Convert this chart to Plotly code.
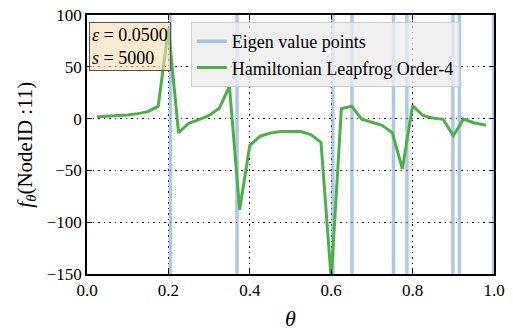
import plotly.graph_objects as go

theta = [0.025, 0.05, 0.075, 0.1, 0.125, 0.15, 0.175, 0.2, 0.225, 0.25,
         0.275, 0.3, 0.325, 0.35, 0.375, 0.4, 0.425, 0.45, 0.475, 0.5,
         0.525, 0.55, 0.575, 0.6, 0.625, 0.65, 0.675, 0.7, 0.725, 0.75,
         0.775, 0.8, 0.825, 0.85, 0.875, 0.9, 0.925, 0.95, 0.98]
f_values = [1.8, 2.2, 2.8, 3.5, 4.8, 6.7, 12, 87, -13.6, -4.5,
            -1, 3, 10, 31, -88, -26, -17, -14, -12.5, -12.2,
            -12.5, -15.5, -23, -155, 9.5, 12, -0.5, -3.5, -6.5, -13.5,
            -48.5, 12.5, 3, 0.5, -0.7, -16.5, -0.5, -4, -6.5]
eigen_values = [0.2047, 0.3686, 0.604, 0.651, 0.753, 0.786, 0.899, 0.915, 0.999]
x_ticks = [0.0, 0.2, 0.4, 0.6, 0.8, 1.0]
y_ticks = [-150, -100, -50, 0, 50, 100]
eps_text = "0.0500"
s_text = "5000"
x_title = "<i>θ</i>"
y_title = "<i>f</i><sub><i>θ</i></sub>(NodeID :11)"

FONT = "Liberation Serif"

ex, ey = [], []
for e in eigen_values:
    ex += [e, e, None]
    ey += [-300, 300, None]

fig = go.Figure()
fig.add_trace(go.Scatter(x=ex, y=ey, mode="lines", name="Eigen value points",
                         line=dict(color="rgba(120,165,210,0.6)", width=3.5)))
fig.add_trace(go.Scatter(x=theta, y=f_values, mode="lines",
                         name="Hamiltonian Leapfrog Order-4",
                         line=dict(color="#4daf4a", width=3)))

axis_common = dict(showline=True, linecolor="black", linewidth=1.5, mirror="ticks",
                   ticks="inside", ticklen=5, tickcolor="black", tickwidth=1,
                   showgrid=True, gridcolor="black", griddash="1.5px,4px", gridwidth=1.2,
                   zeroline=False, automargin=False,
                   tickfont=dict(family=FONT, size=17, color="black"))

fig.update_xaxes(range=[0, 1], tickvals=x_ticks, tickformat=".1f", **axis_common)
fig.update_yaxes(range=[-150, 100], tickvals=y_ticks, **axis_common)

fig.add_annotation(xref="paper", yref="paper", x=0.5, y=-0.17, xanchor="center", yanchor="middle",
                   text=x_title, showarrow=False, font=dict(family=FONT, size=22, color="black"))
fig.add_annotation(xref="paper", yref="paper", x=-0.152, y=0.5, xanchor="center", yanchor="middle",
                   text=y_title, textangle=-90, showarrow=False,
                   font=dict(family=FONT, size=21, color="black"))

fig.add_annotation(xref="paper", yref="paper", x=0.005, y=0.973, xanchor="left", yanchor="top",
                   text=f"<i>ε</i> = {eps_text}<br><i>s</i> = {s_text}", align="left",
                   showarrow=False, font=dict(family=FONT, size=18, color="black"),
                   bgcolor="rgba(245,222,179,0.6)", bordercolor="#555", borderwidth=1, borderpad=2)

fig.update_layout(
    width=513, height=334,
    margin=dict(l=87, r=19, t=15, b=60),
    plot_bgcolor="white", paper_bgcolor="white",
    font=dict(family=FONT, color="black"),
    legend=dict(x=0.255, y=0.973, xanchor="left", yanchor="top",
                bgcolor="rgba(236,236,236,0.8)", bordercolor="#cccccc", borderwidth=1,
                font=dict(family=FONT, size=18, color="black"),
                tracegroupgap=0),
)

fig.write_html("out.html")
